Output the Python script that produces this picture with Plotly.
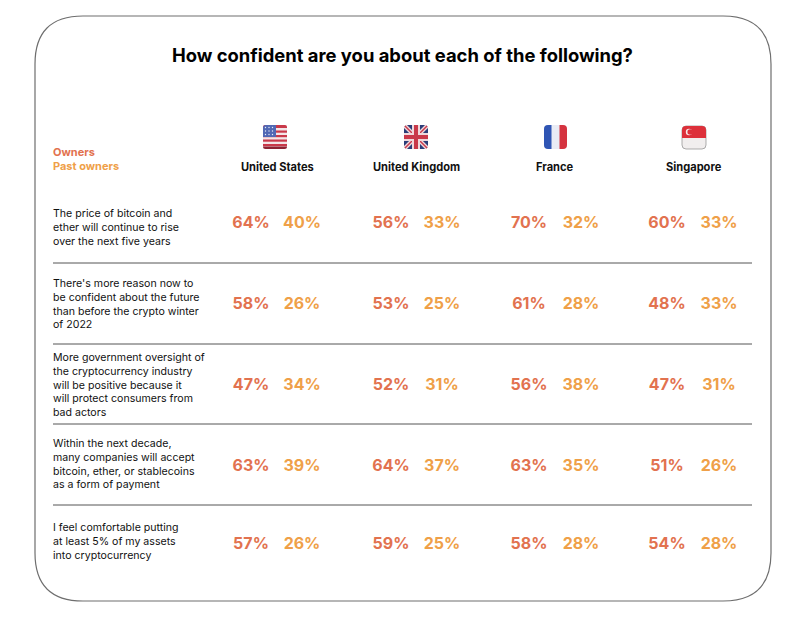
import plotly.graph_objects as go

title = "How confident are you about each of the following?"
countries = ["United States", "United Kingdom", "France", "Singapore"]
statements = [
    "The price of bitcoin and<br>ether will continue to rise<br>over the next five years",
    "There's more reason now to<br>be confident about the future<br>than before the crypto winter<br>of 2022",
    "More government oversight of<br>the cryptocurrency industry<br>will be positive because it<br>will protect consumers from<br>bad actors",
    "Within the next decade,<br>many companies will accept<br>bitcoin, ether, or stablecoins<br>as a form of payment",
    "I feel comfortable putting<br>at least 5% of my assets<br>into cryptocurrency",
]
owners = [
    [64, 56, 70, 60],
    [58, 53, 61, 48],
    [47, 52, 56, 47],
    [63, 64, 63, 51],
    [57, 59, 58, 54],
]
past_owners = [
    [40, 33, 32, 33],
    [26, 25, 28, 33],
    [34, 31, 38, 31],
    [39, 37, 35, 26],
    [26, 25, 28, 28],
]

OWN = "#E2724F"
PAST = "#EFA048"
INK = "#111111"
FONT = "Inter, Liberation Sans, sans-serif"

own_x = [251, 391, 529, 667]
past_x = [302, 442, 581, 719]
row_y = [223.5, 304.5, 385.5, 466.5, 544.5]
text_y = [227, 303.5, 384.5, 464, 541]
flag_x = [275, 416, 555.5, 694]
rule_y = [263, 344, 424, 505]


def rr(x0, y0, x1, y1, tl, tr=None, br=None, bl=None):
    tr = tl if tr is None else tr
    br = tl if br is None else br
    bl = tl if bl is None else bl
    return (f"M{x0+tl},{y0} L{x1-tr},{y0} Q{x1},{y0} {x1},{y0+tr} L{x1},{y1-br} Q{x1},{y1} {x1-br},{y1} "
            f"L{x0+bl},{y1} Q{x0},{y1} {x0},{y1-bl} L{x0},{y0+tl} Q{x0},{y0} {x0+tl},{y0} Z")


def fill(path, c):
    return dict(type="path", path=path, fillcolor=c, line=dict(width=0), layer="above")


def rect(x0, y0, x1, y1, c):
    return dict(type="rect", x0=x0, x1=x1, y0=y0, y1=y1, fillcolor=c, line=dict(width=0), layer="above")


def line(x0, y0, x1, y1, c, w):
    return dict(type="line", x0=x0, x1=x1, y0=y0, y1=y1, line=dict(color=c, width=w), layer="above")


def dot(x, y, r, c):
    return dict(type="circle", x0=x - r, x1=x + r, y0=y - r, y1=y + r, fillcolor=c, line=dict(width=0), layer="above")


shapes = [dict(type="path", path=rr(35, 16, 771, 601, 48), line=dict(color="#6E6E6E", width=1.2), fillcolor="white", layer="below")]
for y in rule_y:
    shapes.append(dict(type="line", x0=53, x1=752, y0=y, y1=y, line=dict(color="#555555", width=1)))

T, B = 125, 149
RED = "#C9394A"
# United States
cx = flag_x[0]
L, R = cx - 12, cx + 12
shapes.append(fill(rr(L, T, R, B, 4), "#F3E6E8"))
shapes.append(fill(rr(L, T, R, T + 3, 2, 2, 0, 0), RED))
for y in [T + 5.5, T + 10, T + 14.5, T + 19]:
    shapes.append(rect(L, y, R, y + 2.2, RED))
shapes.append(fill(rr(L, B - 2.5, R, B, 0, 0, 2.5, 2.5), "#8E2233"))
shapes.append(fill(rr(L, T, cx + 1, T + 12, 3, 0, 0, 0), "#5168B4"))
for yy in [T + 2.5, T + 6, T + 9.5]:
    for xx in [L + 2.5, L + 6, L + 9.5]:
        shapes.append(dot(xx, yy, 0.7, "#E8ECF6"))
# United Kingdom
cx = flag_x[1]
L, R = cx - 12, cx + 12
shapes.append(fill(rr(L, T, R, B, 4), "#2B3D78"))
shapes.append(line(L + 1, T + 1, R - 1, B - 1, "#EFD9DC", 4))
shapes.append(line(R - 1, T + 1, L + 1, B - 1, "#EFD9DC", 4))
shapes.append(line(L + 1, T + 1, R - 1, B - 1, RED, 1.5))
shapes.append(line(R - 1, T + 1, L + 1, B - 1, RED, 1.5))
shapes.append(rect(cx - 4, T, cx + 4, B, "#EFD9DC"))
shapes.append(rect(L, T + 8, R, B - 8, "#EFD9DC"))
shapes.append(rect(cx - 2, T, cx + 2, B, RED))
shapes.append(rect(L, T + 10, R, B - 10, RED))
# France
cx = flag_x[2]
L, R = cx - 11.5, cx + 11.5
shapes.append(fill(rr(L, T, R, B, 4), "#E9ECF5"))
shapes.append(fill(rr(L, T, cx - 4, B, 4, 0, 0, 4), "#2F55B4"))
shapes.append(fill(rr(cx + 4, T, R, B, 0, 4, 4, 0), "#D5333F"))
# Singapore
cx = flag_x[3]
L, R = cx - 12, cx + 12
shapes.append(dict(type="path", path=rr(L, T + 1, R, B, 4), fillcolor="#F1EEEE", line=dict(color="#8A8A8A", width=0.7), layer="above"))
shapes.append(fill(rr(L, T + 1, R, T + 13, 4, 4, 0, 0), "#DD303A"))
shapes.append(dot(cx - 5, T + 7, 3.2, "#F6ECEC"))
shapes.append(dot(cx - 3.8, T + 7, 2.8, "#DD303A"))

fig = go.Figure()
xs_o, ys_o, ts_o, xs_p, ys_p, ts_p = [], [], [], [], [], []
for r, y in enumerate(row_y):
    for c in range(len(countries)):
        xs_o.append(own_x[c]); ys_o.append(y); ts_o.append(f"<b>{owners[r][c]}%</b>")
        xs_p.append(past_x[c]); ys_p.append(y); ts_p.append(f"<b>{past_owners[r][c]}%</b>")
fig.add_trace(go.Scatter(x=xs_o, y=ys_o, text=ts_o, mode="text", name="Owners", textfont=dict(family=FONT, size=16, color=OWN), textposition="middle center"))
fig.add_trace(go.Scatter(x=xs_p, y=ys_p, text=ts_p, mode="text", name="Past owners", textfont=dict(family=FONT, size=16, color=PAST), textposition="middle center"))

ann = [
    dict(x=402, y=55, text=f"<b>{title}</b>", font=dict(size=18.4, color="#000000", family=FONT), xanchor="center", yanchor="middle"),
    dict(x=51, y=152, text="<b>Owners</b>", font=dict(size=11, color=OWN, family=FONT), xanchor="left", yanchor="middle"),
    dict(x=51, y=166, text="<b>Past owners</b>", font=dict(size=11, color=PAST, family=FONT), xanchor="left", yanchor="middle"),
]
label_x = [277, 416, 555, 694]
for c, name in zip(label_x, countries):
    ann.append(dict(x=c, y=167, text=f"<b>{name}</b>", font=dict(size=11.1, color=INK, family=FONT), xanchor="center", yanchor="middle"))
for s, y in zip(statements, text_y):
    ann.append(dict(x=51, y=y, text=s, align="left", font=dict(size=10.6, color=INK, family=FONT), xanchor="left", yanchor="middle"))
for a in ann:
    a.update(xref="x", yref="y", showarrow=False)

fig.update_layout(
    width=797, height=624, margin=dict(l=0, r=0, t=0, b=0),
    paper_bgcolor="white", plot_bgcolor="white", showlegend=False,
    xaxis=dict(range=[0, 797], visible=False, fixedrange=True),
    yaxis=dict(range=[624, 0], visible=False, fixedrange=True),
    shapes=shapes, annotations=ann,
)
fig.write_html("out.html", config={"displayModeBar": False}, post_script="document.body.style.margin='0';")
